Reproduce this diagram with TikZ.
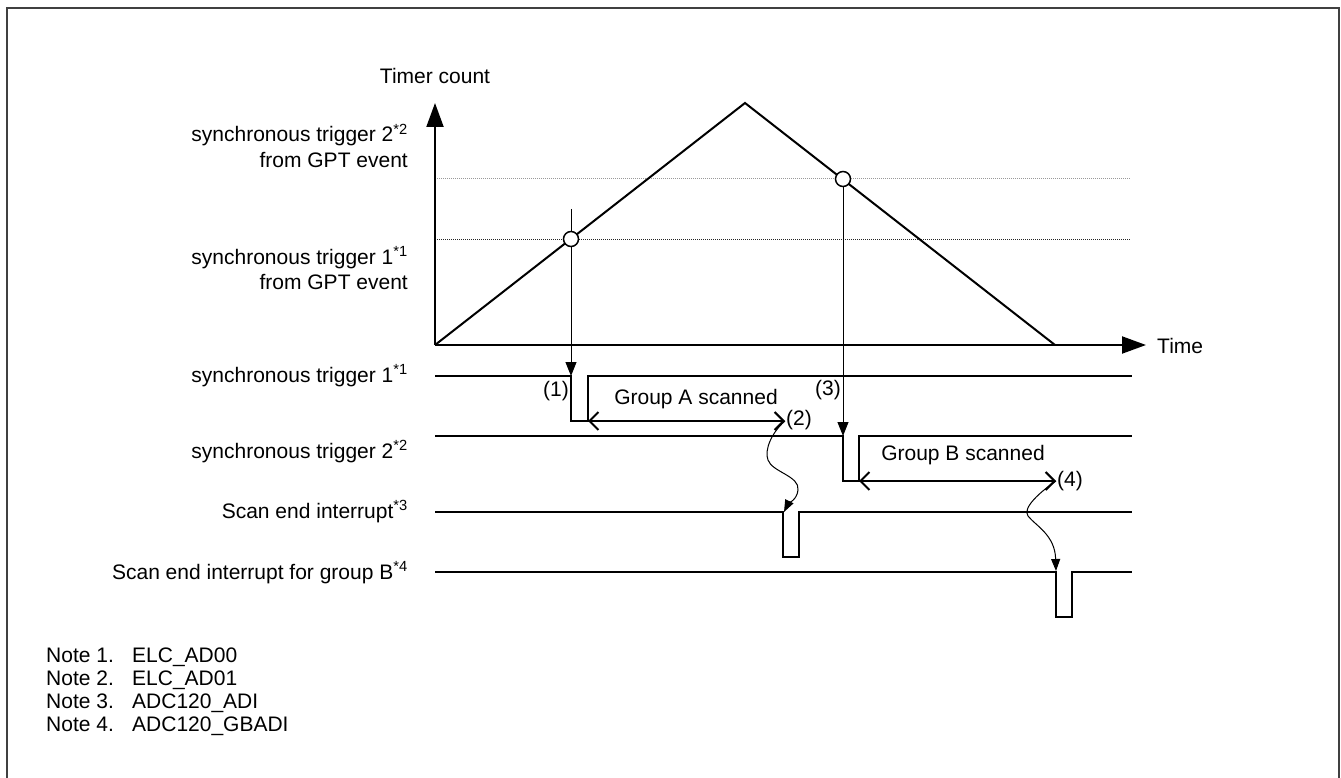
\documentclass[tikz,border=0pt]{standalone}
\usepackage{fontspec}
\setmainfont{Liberation Sans}
\usetikzlibrary{arrows.meta}
\begin{document}
\begin{tikzpicture}[x=1pt,y=-1pt,
  txt/.style={font=\fontsize{21}{25}\selectfont, inner sep=0pt},
  axisline/.style={line width=2pt, -{Triangle[length=24pt,width=17pt]}},
  ramp/.style={line width=2pt, line join=miter},
  sig/.style={line width=2pt, line join=miter},
  trig/.style={line width=1pt, -{Triangle[length=14pt,width=11pt]}},
  span/.style={line width=2pt, {Straight Barb[length=9pt,width=18pt]}-{Straight Barb[length=9pt,width=18pt]}},
  wave/.style={line width=1pt, -{Triangle[length=12pt,width=9pt]}},
  ring/.style={circle, draw, line width=1.5pt, fill=white, minimum size=15pt, inner sep=0pt},
  lvl/.style={line width=1pt, dash pattern=on 1pt off 1pt},
]
\useasboundingbox (0,0) rectangle (1341,778);
\draw[line width=2pt, draw=black!75] (7,8) rectangle (1339,782);

% coordinates
\coordinate (O) at (435,345);
\coordinate (Ytop) at (435,103);
\coordinate (Tend) at (1146,345);
\coordinate (peak) at (745,103);
\coordinate (zero) at (1055,345);

% level lines
\draw[lvl, draw=black!40] (435,179) -- (1131,179);
\draw[lvl, draw=black!85] (435,239) -- (1131,239);

% trigger verticals
\coordinate (v1s) at (571,209);
\coordinate (v1e) at (571,376);
\coordinate (v2e) at (843,436);
\draw[trig] (v1s) -- (v1e);

% ramp
\draw[ramp] (O) -- (peak) -- (zero);
\node[ring] (c1) at (571,239) {};
\node[ring] (c2) at (843,179) {};
\draw[trig] (c2.south) -- (v2e);

% axes
\draw[axisline] (O) -- (Ytop);
\draw[axisline] (O) -- (Tend);

\node[txt, anchor=base] (tc) at (435,84) {Timer count};
\node[txt, anchor=base west] (time) at (1157,353) {Time};

% left labels
\node[txt, anchor=base east] (g2a) at (408,142) {synchronous trigger 2\textsuperscript{*2}};
\node[txt, anchor=base east] (g2b) at (408,168) {from GPT event};
\node[txt, anchor=base east] (g1a) at (408,264) {synchronous trigger 1\textsuperscript{*1}};
\node[txt, anchor=base east] (g1b) at (408,289) {from GPT event};

\node[txt, anchor=base east] (l1) at (408,382) {synchronous trigger 1\textsuperscript{*1}};
\node[txt, anchor=base east] (l2) at (408,458) {synchronous trigger 2\textsuperscript{*2}};
\node[txt, anchor=base east] (l3) at (408,518) {Scan end interrupt\textsuperscript{*3}};
\node[txt, anchor=base east] (l4) at (408,579) {Scan end interrupt for group B\textsuperscript{*4}};

% signals
\draw[sig] (435,376) -| (571,421) -| (588,376) -- (1132,376);
\draw[sig] (435,436) -| (843,481) -| (859,436) -- (1132,436);
\draw[sig] (435,512) -| (783,557) -| (799,512) -- (1132,512);
\draw[sig] (435,572) -| (1056,617) -| (1072,572) -- (1132,572);

% spans
\coordinate (a1) at (588,421);
\coordinate (a2) at (785,421);
\coordinate (b1) at (859,481);
\coordinate (b2) at (1056,481);
\draw[span] (a1) -- (a2);
\draw[span] (b1) -- (b2);

\node[txt, anchor=base] (ga) at (696,404) {Group A scanned};
\node[txt, anchor=base] (gb) at (963,460) {Group B scanned};

\node[txt] (n1) at (556,391) {(1)};
\node[txt] (n2) at (799,420) {(2)};
\node[txt] (n3) at (828,390) {(3)};
\node[txt] (n4) at (1070,481) {(4)};

% wavy arrows
\coordinate (ia) at (784,512);
\coordinate (ib) at (1056,571);
\draw[wave] (a2) .. controls (772,432) and (764,450) .. (768,460)
  .. controls (772,472) and (800,476) .. (798,490)
  .. controls (797,500) and (788,504) .. (ia);
\draw[wave] (b2) .. controls (1040,492) and (1022,508) .. (1028,516)
  .. controls (1036,526) and (1055,535) .. (ib);

% notes
\node[txt, anchor=base west] (m1) at (46,662) {\makebox[86pt][l]{Note 1.}ELC\_AD00};
\node[txt, anchor=base west] (m2) at (46,685) {\makebox[86pt][l]{Note 2.}ELC\_AD01};
\node[txt, anchor=base west] (m3) at (46,708) {\makebox[86pt][l]{Note 3.}ADC120\_ADI};
\node[txt, anchor=base west] (m4) at (46,731) {\makebox[86pt][l]{Note 4.}ADC120\_GBADI};
\end{tikzpicture}
\end{document}
